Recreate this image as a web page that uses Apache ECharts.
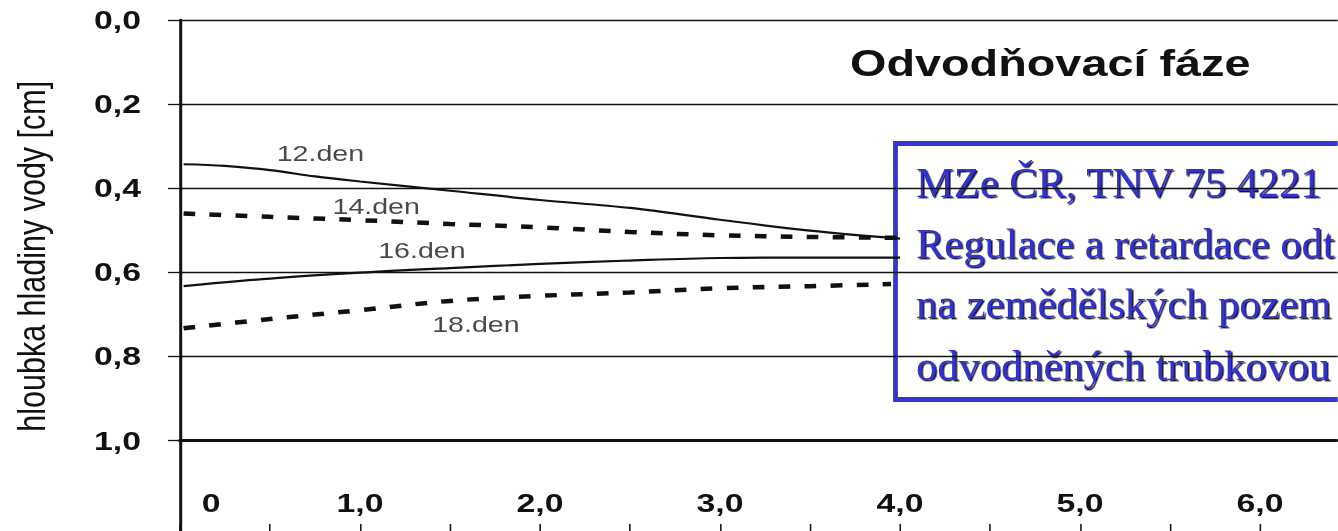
<!DOCTYPE html>
<html><head><meta charset="utf-8">
<script src="https://cdn.jsdelivr.net/npm/echarts@6/dist/echarts.min.js"></script>
<style>
html,body{margin:0;padding:0;background:#fff;overflow:hidden;width:1338px;height:531px}
#chart{height:531px;transform-origin:0 0}
</style></head><body><div id="chart"></div>
<script>
// ---- data ----
const xTickLabels = ['0', '1,0', '2,0', '3,0', '4,0', '5,0', '6,0'];
const yTickLabels = ['0,0', '0,2', '0,4', '0,6', '0,8', '1,0'];
const seriesNames = ['12.den', '14.den', '16.den', '18.den'];
const day12X = [0.02, 0.25, 0.5, 0.75, 1.0, 1.5, 2.0, 2.5, 3.0, 3.5, 4.0];
const day12Y = [0.343, 0.347, 0.357, 0.372, 0.384, 0.406, 0.428, 0.447, 0.475, 0.501, 0.52];
const day14X = [0.02, 0.5, 1.0, 1.5, 2.0, 2.5, 3.0, 3.5, 4.0];
const day14Y = [0.46, 0.468, 0.476, 0.485, 0.493, 0.504, 0.512, 0.516, 0.518];
const day16X = [0.02, 0.5, 1.0, 1.5, 2.0, 2.5, 3.0, 3.5, 4.0];
const day16Y = [0.633, 0.615, 0.601, 0.590, 0.580, 0.572, 0.566, 0.565, 0.565];
const day18X = [0.02, 0.5, 1.0, 1.5, 2.0, 2.5, 3.0, 3.5, 3.95];
const day18Y = [0.733, 0.711, 0.690, 0.668, 0.656, 0.648, 0.638, 0.633, 0.628];
const labelX = [0.78, 1.09, 1.344, 1.644];
const labelY = [0.316, 0.442, 0.547, 0.723];
const titleText = 'Odvodňovací fáze';
const yAxisName = 'hloubka hladiny vody [cm]';
const noteLines = ['MZe ČR, TNV 75 4221', 'Regulace a retardace odt', 'na zemědělských pozem', 'odvodněných trubkovou'];

// ---- layout (the source picture is stretched horizontally) ----
const S = 1.3;
const W = 1338 / S;
const el = document.getElementById('chart');
el.style.width = W + 'px';
el.style.transform = 'scaleX(' + S + ')';

const pairs = (xs, ys) => xs.map((x, i) => [x, ys[i]]);
const sans = 'Liberation Sans, Arial, Helvetica, sans-serif';
const serif = 'Liberation Serif, Times New Roman, serif';
const gridLeft = 180 / S;
const gridWidth = 6.5 * 180 / S;

const solid = { color: '#111', width: 2.2, type: 'solid' };
const dashed = { color: '#111', width: 4.5, type: [9, 11], cap: 'butt' };

const mkLine = (name, xs, ys, ls) => ({
  type: 'line', name, xAxisIndex: 0, yAxisIndex: 0, data: pairs(xs, ys),
  symbol: 'none', smooth: 0.35, lineStyle: ls, silent: true, z: 3
});

const chart = echarts.init(el, null, { renderer: 'svg' });
chart.setOption({
  animation: false,
  backgroundColor: '#fff',
  title: {
    text: titleText, left: 850 / S, top: 45, padding: 0,
    textStyle: { fontFamily: sans, fontWeight: 'bold', fontSize: 36, color: '#111' }
  },
  grid: [
    { left: gridLeft, top: 20, width: gridWidth, height: 420.5, containLabel: false, outerBoundsMode: 'none' },
    { left: gridLeft, top: 440.5, width: gridWidth, height: 93.5, containLabel: false, outerBoundsMode: 'none' }
  ],
  xAxis: [
    { gridIndex: 0, type: 'value', min: 0, max: 6.5, interval: 0.5, position: 'bottom',
      axisLine: { show: true, onZero: false, lineStyle: { color: '#111', width: 3 } },
      axisTick: { show: false }, axisLabel: { show: false }, splitLine: { show: false } },
    { gridIndex: 1, type: 'value', min: 0, max: 6.5, interval: 0.5, position: 'bottom',
      axisLine: { show: true, onZero: false, lineStyle: { color: '#111', width: 1.5 } },
      axisTick: { show: true, inside: true, length: 10, lineStyle: { color: '#111', width: 1.2 } },
      axisLabel: {
        show: true, inside: true, margin: 18,
        fontFamily: sans, fontWeight: 'bold', fontSize: 26, color: '#111',
        formatter: (v) => {
          const i = Math.round(v * 2);
          if (i % 2) return '';
          const lbl = xTickLabels[i / 2] || '';
          return v === 0 ? '{z|' + lbl + '}' : lbl;
        },
        rich: { z: { fontFamily: sans, fontWeight: 'bold', fontSize: 26, color: '#111', padding: [0, 0, 0, 48] } }
      },
      splitLine: { show: false } }
  ],
  yAxis: [
    { gridIndex: 0, type: 'value', min: 0, max: 1, interval: 0.2, inverse: true,
      name: yAxisName, nameLocation: 'middle', nameGap: 99,
      nameTextStyle: { fontFamily: sans, fontSize: 30.5, color: '#111', padding: [0, 52, 0, 0] },
      axisLine: { show: true, lineStyle: { color: '#111', width: 2.3 } },
      axisTick: { show: true, inside: false, length: 9.2, lineStyle: { color: '#111', width: 1.3 } },
      axisLabel: {
        show: true, margin: 30, fontFamily: sans, fontWeight: 'bold', fontSize: 26, color: '#111',
        formatter: (v) => yTickLabels[Math.round(v / 0.2)] || ''
      },
      splitLine: { show: true, lineStyle: { color: '#111', width: 1.3 } } },
    { gridIndex: 1, type: 'value', min: 0, max: 1,
      axisLine: { show: true, lineStyle: { color: '#111', width: 2.3 } },
      axisTick: { show: false }, axisLabel: { show: false }, splitLine: { show: false } }
  ],
  series: [
    mkLine(seriesNames[0], day12X, day12Y, solid),
    mkLine(seriesNames[1], day14X, day14Y, dashed),
    mkLine(seriesNames[2], day16X, day16Y, solid),
    mkLine(seriesNames[3], day18X, day18Y, dashed),
    {
      type: 'scatter', xAxisIndex: 0, yAxisIndex: 0, silent: true, z: 4,
      data: seriesNames.map((n, i) => [labelX[i], labelY[i], n]),
      symbolSize: 1, itemStyle: { color: 'rgba(0,0,0,0)' },
      label: { show: true, position: 'inside', formatter: (p) => p.value[2],
               fontFamily: sans, fontSize: 22, color: '#1a1a1a' }
    }
  ],
  graphic: [{
    type: 'group', x: 895.5 / S, y: 0, scaleX: 1 / S, z: 100, silent: true,
    children: [
      { type: 'rect', shape: { x: 0, y: 143.5, width: 520, height: 256 },
        style: { fill: '#fff', stroke: '#3636cc', lineWidth: 4.8 } }
    ].concat(noteLines.map((t, i) => ({
      type: 'text', x: 20.5, y: [182, 243, 303, 365][i],
      style: { text: t, fill: '#3030cc', fontSize: 42.5, fontFamily: serif,
               verticalAlign: 'middle', align: 'left',
               textShadowColor: 'rgba(0,0,0,0.9)', textShadowOffsetX: 1.2, textShadowOffsetY: 1.4, textShadowBlur: 0.8 }
    })))
  }]
});
</script></body></html>
